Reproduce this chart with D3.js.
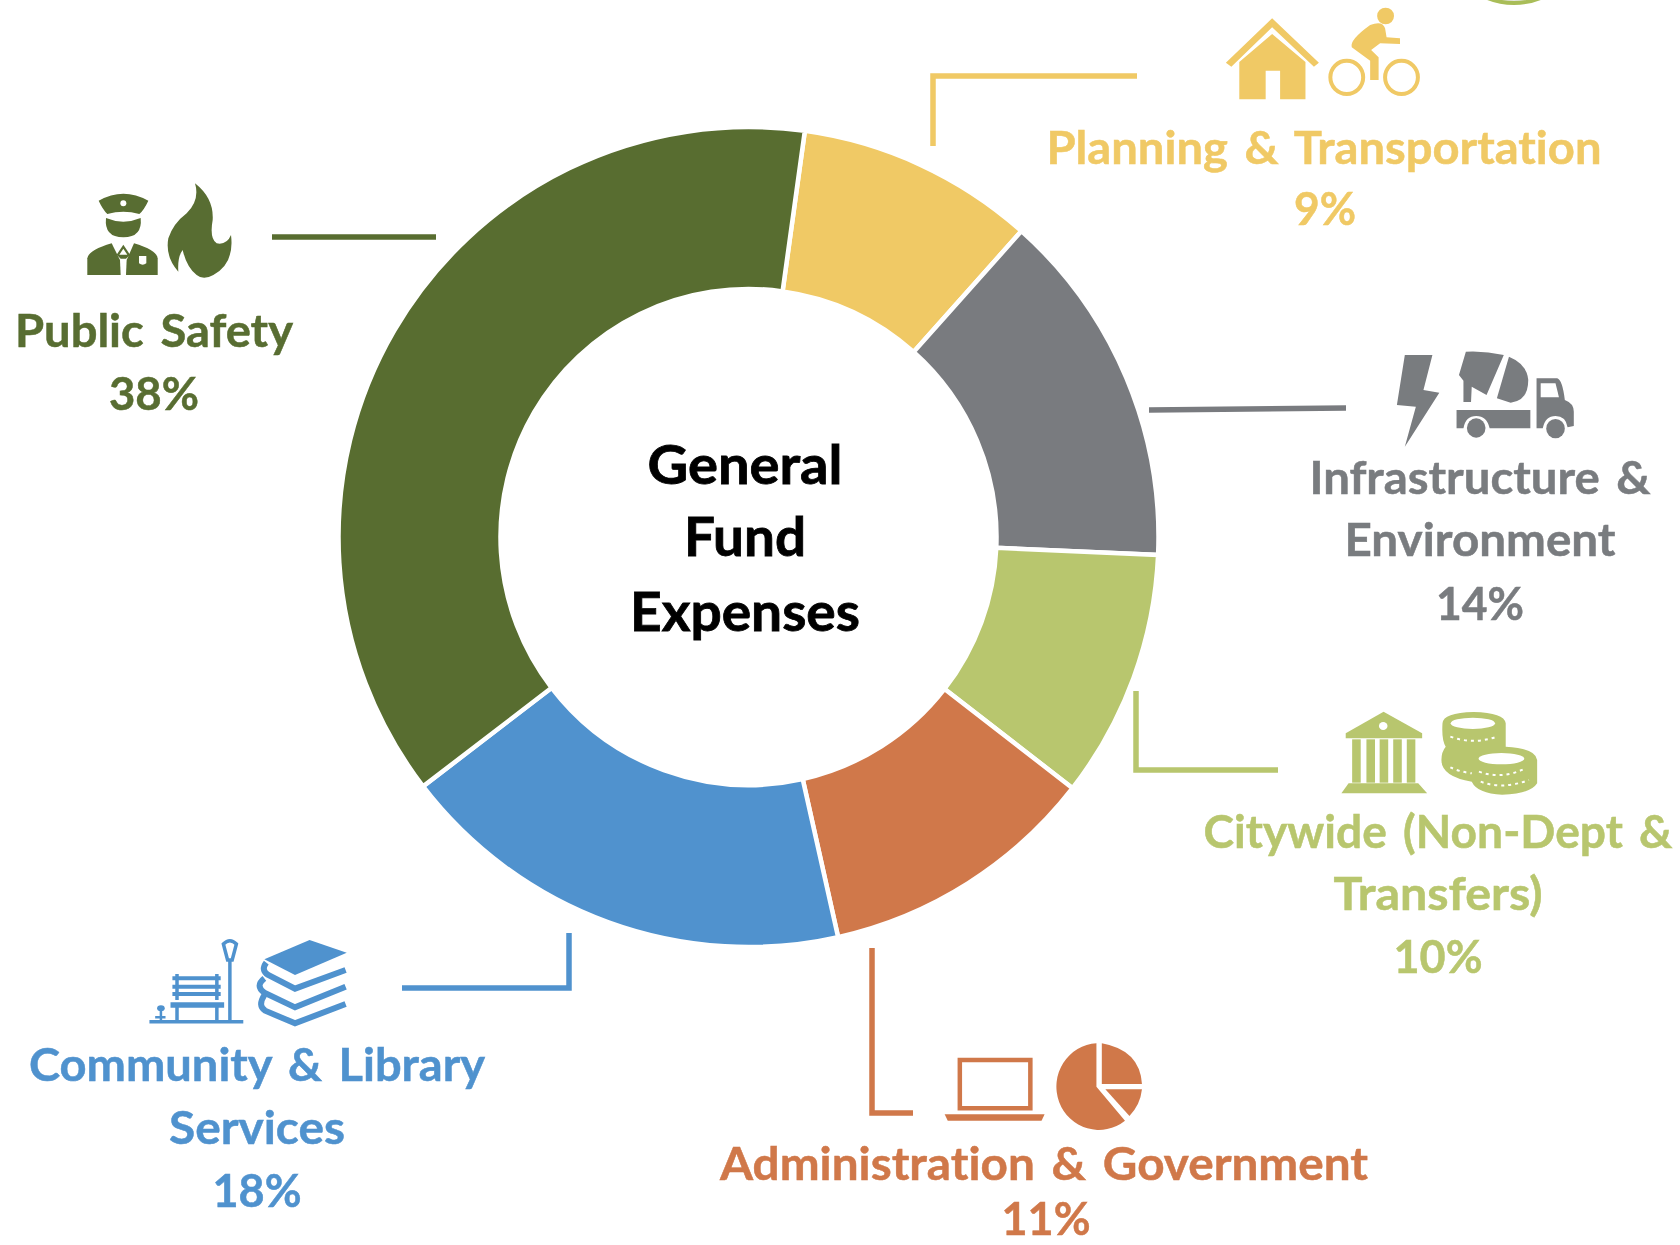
<!DOCTYPE html>
<html>
<head>
<meta charset="utf-8">
<title>General Fund Expenses</title>
<script src="https://cdn.jsdelivr.net/npm/d3@7"></script>
<style>
  html, body { margin: 0; padding: 0; background: #fff; }
  svg { display: block; }
  text { font-family: Lato, "Open Sans", sans-serif; font-weight: 700; text-anchor: middle; font-variant-ligatures: none; }
</style>
</head>
<body>
<div id="chart"></div>
<script>
// chart data, clockwise from the top of the ring
var categories = ["Planning & Transportation", "Infrastructure & Environment", "Citywide (Non-Dept & Transfers)",
                  "Administration & Government", "Community & Library Services", "Public Safety"];
var shares = [9.4, 14.1, 9.8, 11, 18.1, 37.6];
var colors = ["#f0c965", "#797b7f", "#b8c66e", "#d0784a", "#5092ce", "#586d30"];
var centerTitle = ["General", "Fund", "Expenses"];

// how each name is broken into lines
var nameLines = [["Planning & Transportation"], ["Infrastructure &", "Environment"], ["Citywide (Non-Dept &", "Transfers)"],
                 ["Administration & Government"], ["Community & Library", "Services"], ["Public Safety"]];

// layout of the labels: [x, baseline, width] for each text line, last one is the percentage
var labelSpots = [
  [[1324, 164, 555], [1325, 225, 62]],
  [[1480, 494, 341], [1480, 556, 271], [1480, 620, 88]],
  [[1438, 848, 469], [1438, 910, 209], [1438, 973, 89]],
  [[1044, 1180, 648], [1046, 1235, 89]],
  [[257, 1081, 456], [257, 1144, 176], [257, 1207, 89]],
  [[154, 347, 278], [154, 410, 90]]
];
var leaders = [
  [[1137, 76], [933, 76], [933, 146]],
  [[1149, 410], [1346, 408]],
  [[1136, 691], [1136, 770], [1278, 770]],
  [[872, 948], [872, 1113], [913, 1113]],
  [[402, 988], [569, 988], [569, 933]],
  [[272, 237], [436, 237]]
];
var titleSpots = [[745, 484, 195], [745, 556, 122], [745, 631, 230]];

var width = 1680, height = 1245;
var cx = 748.5, cy = 537, outerR = 410, innerR = 248;
var startDeg = 7.9;

var svg = d3.select("#chart").append("svg")
    .attr("width", width)
    .attr("height", height);

// the source is a slightly soft screenshot
svg.append("defs").append("filter")
    .attr("id", "soft")
  .append("feGaussianBlur")
    .attr("stdDeviation", 0.6);

// ring
var pie = d3.pie().sort(null)
    .startAngle(startDeg * Math.PI / 180)
    .endAngle((startDeg + 360) * Math.PI / 180);
var arc = d3.arc().innerRadius(innerR).outerRadius(outerR);

svg.append("g")
    .attr("transform", "translate(" + cx + "," + cy + ")")
  .selectAll("path")
  .data(pie(shares))
  .enter().append("path")
    .attr("d", arc)
    .attr("fill", function(d, i) { return colors[i]; })
    .attr("stroke", "#fff")
    .attr("stroke-width", 4.5);

// leader lines
var line = d3.line();
svg.selectAll(".leader")
  .data(leaders)
  .enter().append("path")
    .attr("class", "leader")
    .attr("d", line)
    .attr("fill", "none")
    .attr("stroke", function(d, i) { return colors[i]; })
    .attr("stroke-width", 5.5);

// labels
var labelLayer = svg.append("g").attr("filter", "url(#soft)");
categories.forEach(function(name, i) {
    var lines = nameLines[i].concat([Math.round(shares[i]) + "%"]);
    lines.forEach(function(txt, j) {
        var spot = labelSpots[i][j];
        labelLayer.append("text")
            .attr("x", spot[0])
            .attr("y", spot[1])
            .attr("font-size", 46)
            .attr("fill", colors[i])
            .attr("stroke", colors[i])
            .attr("stroke-width", 0.5)
            .attr("word-spacing", 5)
            .attr("textLength", spot[2])
            .attr("lengthAdjust", "spacingAndGlyphs")
            .text(txt);
    });
});

// middle of the ring
centerTitle.forEach(function(txt, j) {
    labelLayer.append("text")
        .attr("x", titleSpots[j][0])
        .attr("y", titleSpots[j][1])
        .attr("font-size", 54)
        .attr("fill", "#000")
        .attr("stroke", "#000")
        .attr("stroke-width", 0.8)
        .attr("textLength", titleSpots[j][2])
        .attr("lengthAdjust", "spacingAndGlyphs")
        .text(txt);
});

// ICONS - traced by hand, in the pixel units of the crops they were read from
function iconGroup(x0, y0, sx, sy, color) {
    return svg.append("g")
        .attr("transform", "translate(" + x0 + "," + y0 + ") scale(" + (1 / sx) + "," + (1 / sy) + ")")
        .attr("fill", color)
        .attr("filter", "url(#soft)");
}
function fillPath(g, d, color) {
    return g.append("path").attr("d", d).attr("fill", color || null);
}
function strokePath(g, d, color, w) {
    return g.append("path").attr("d", d)
        .attr("fill", "none")
        .attr("stroke", color)
        .attr("stroke-width", w)
        .attr("vector-effect", "non-scaling-stroke");
}
function oval(g, x, y, rx, ry, fill, stroke, w) {
    var e = g.append("ellipse").attr("cx", x).attr("cy", y).attr("rx", rx).attr("ry", ry).attr("fill", fill);
    if (stroke) e.attr("stroke", stroke).attr("stroke-width", w).attr("vector-effect", "non-scaling-stroke");
    return e;
}

// police officer and flame
var g = iconGroup(0, 160, 3, 3, colors[5]);
fillPath(g, "M296 122 Q370 80 445 122 Q432 150 418 162 Q370 148 322 162 Q308 148 296 122Z");
oval(g, 370, 130, 9, 9, "#fff");
fillPath(g, "M318 174 Q370 196 422 174 Q428 232 370 232 Q312 232 318 174Z");
fillPath(g, "M262 345 L262 295 Q266 270 335 250 L360 300 L362 345Z");
fillPath(g, "M378 345 L380 300 L402 250 Q470 270 473 295 L473 345Z");
fillPath(g, "M370 254 L350 284 L362 296 L378 296 L390 284Z");
fillPath(g, "M370 266 L358 284 L382 284Z", "#fff");
fillPath(g, "M417 288 H439 V310 Q428 318 417 310Z", "#fff");
fillPath(g, "M585 70 Q642 115 638 180 Q628 235 650 250 Q680 256 693 225 Q704 310 640 345 Q610 362 590 345 Q560 322 548 270 Q532 290 535 335 Q495 290 505 235 Q520 190 560 160 Q600 120 585 70Z");

// house and cyclist
g = iconGroup(900, 0, 2.01, 3, colors[0]);
fillPath(g, "M655 188 L748 55 L842 188 L832 200 L748 82 L666 200Z");
fillPath(g, "M682 298 L682 186 L748 102 L815 186 L815 298 L764 298 L764 212 L735 212 L735 298Z");
oval(g, 898, 232, 33, 50, "none", colors[0], 4);
oval(g, 1008, 232, 33, 50, "none", colors[0], 4);
oval(g, 976, 48, 17, 25, colors[0]);
fillPath(g, "M945 75 Q970 60 975 85 L978 112 L1005 115 L1005 132 L965 130 L947 150 L962 172 L962 240 L945 240 L945 182 L908 142 Q903 120 945 75Z");

// lightning bolt and cement mixer
g = iconGroup(1140, 340, 2.9, 3, colors[1]);
fillPath(g, "M768 45 L848 45 L822 150 L868 158 L768 320 L800 200 L745 195Z");
fillPath(g, "M945 35 Q1000 32 1055 45 L1005 165 L962 140 L960 186 L938 186 L938 122 L925 105Z");
fillPath(g, "M1070 50 Q1122 72 1126 120 Q1126 182 1075 188 L1035 175Z");
fillPath(g, "M918 210 L1132 210 L1132 265 L1014 265 Q1006 228 975 228 Q944 228 938 265 L918 265Z");
fillPath(g, "M1150 115 L1210 115 Q1225 120 1232 180 Q1258 190 1258 215 L1258 258 L1240 262 Q1235 228 1205 228 Q1175 228 1168 265 L1150 265Z");
fillPath(g, "M1162 130 L1205 130 L1215 172 L1162 172Z", "#fff");
oval(g, 975, 264, 27, 29, colors[1]);
oval(g, 1205, 266, 27, 29, colors[1]);

// bank and coins
g = iconGroup(1120, 680, 2.8, 3, colors[2]);
fillPath(g, "M738 95 L846 160 L846 175 L632 175 L632 160Z");
oval(g, 737, 138, 12, 12, "#fff");
[650, 690, 727, 765, 803].forEach(function(x) {
    g.append("rect").attr("x", x).attr("y", 178).attr("width", 24).attr("height", 130);
});
fillPath(g, "M640 310 L835 310 L860 340 L620 340Z");
fillPath(g, "M903 130 Q905 98 990 96 Q1076 98 1080 130 L1080 200 Q1165 205 1168 240 L1168 310 Q1150 342 1070 344 Q1000 340 985 305 Q900 290 900 240 Q900 215 912 200 Q900 180 903 130Z");
oval(g, 988, 130, 62, 17, "#fff");
oval(g, 1068, 236, 64, 17, "#fff");
strokePath(g, "M925 170 Q990 195 1055 170", "#fff", 2).attr("stroke-dasharray", "3 4");
strokePath(g, "M925 262 Q950 275 985 280", "#fff", 2).attr("stroke-dasharray", "3 4");
strokePath(g, "M1005 275 Q1070 300 1135 265", "#fff", 2).attr("stroke-dasharray", "3 4");
strokePath(g, "M1010 305 Q1070 330 1145 300", "#fff", 2).attr("stroke-dasharray", "3 4");

// laptop and pie chart
g = iconGroup(700, 930, 2.24, 3, colors[3]);
strokePath(g, "M582 390 H740 V535 H582Z", colors[3], 4.5);
fillPath(g, "M548 553 H772 L765 572 H555Z");
fillPath(g, "M888 340 A95 130 0 1 0 952 572 L888 470Z");
fillPath(g, "M900 340 Q985 360 990 462 L900 462Z");
fillPath(g, "M908 478 L990 478 Q986 525 962 558Z");

// bench and books
g = iconGroup(0, 910, 2.61, 3, colors[4]);
strokePath(g, "M390 335 H635", colors[4], 3.5);
strokePath(g, "M600 150 V330", colors[4], 3.5);
strokePath(g, "M583 102 Q600 82 617 102 L606 150 L594 150Z", colors[4], 3.5);
strokePath(g, "M450 205 H576 M450 230 H576 M450 252 H576", colors[4], 4);
strokePath(g, "M462 192 V270 M566 192 V270", colors[4], 3.5);
strokePath(g, "M445 285 H585", colors[4], 5.5);
strokePath(g, "M462 285 V332 M566 285 V332", colors[4], 3.5);
strokePath(g, "M420 300 V330 M405 322 H432", colors[4], 2.5);
oval(g, 420, 295, 10, 9, colors[4]);
fillPath(g, "M690 148 L808 90 L905 128 L770 195Z");
strokePath(g, "M695 158 Q680 180 700 195 L770 236 L902 180", colors[4], 6);
strokePath(g, "M690 205 Q665 228 690 248 L770 292 L902 230", colors[4], 6);
strokePath(g, "M690 255 Q672 288 692 302 L770 340 L902 282", colors[4], 6);

// bit of a circle cut off by the top edge
svg.append("circle")
    .attr("cx", 1514).attr("cy", -66).attr("r", 69)
    .attr("fill", "#e4e6dc")
    .attr("stroke", "#a9bd58")
    .attr("stroke-width", 4);
</script>
</body>
</html>
